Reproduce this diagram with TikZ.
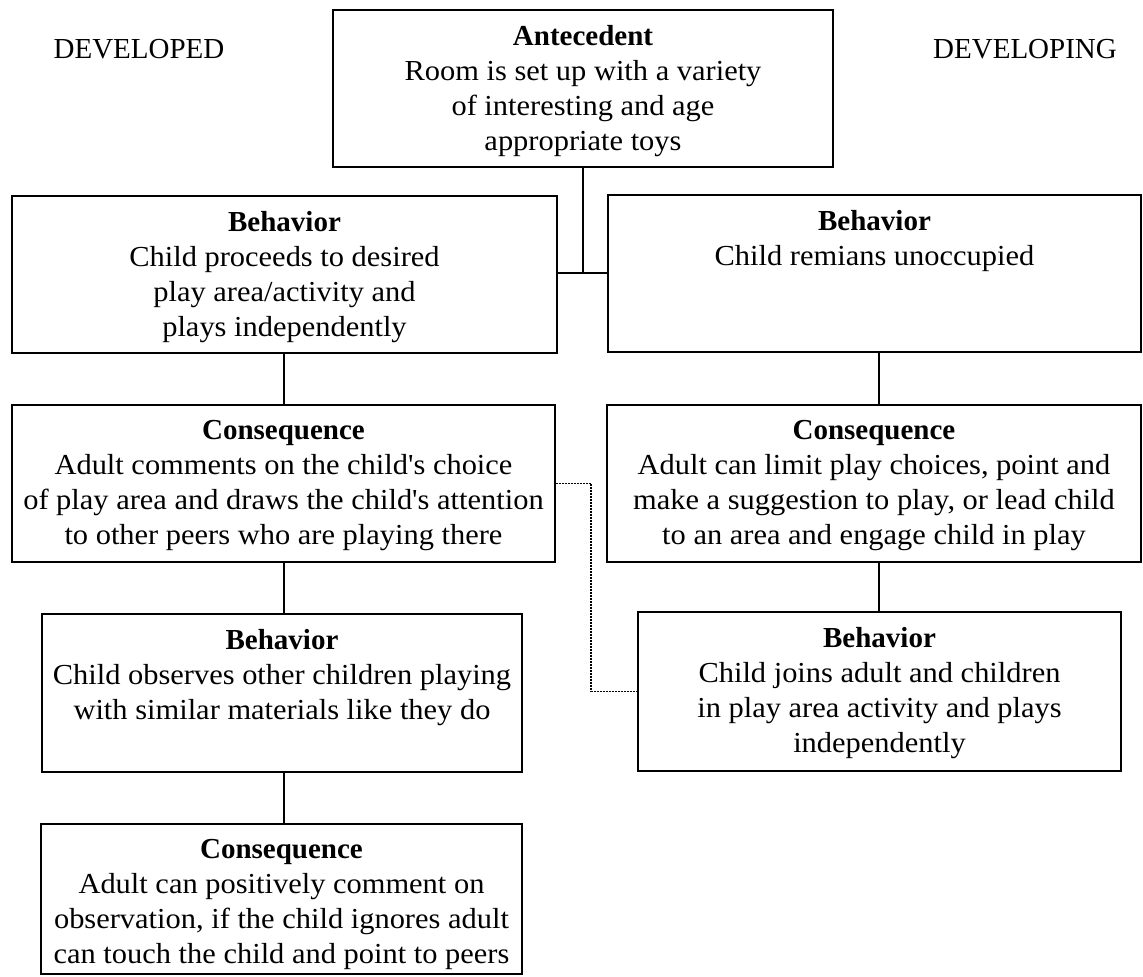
\documentclass[tikz,border=0pt]{standalone}
\usepackage{fontspec}
\setmainfont{Liberation Serif}
\newfontfamily\bodyfont{Liberation Serif}[FakeStretch=1.05]
\newcommand\hd[1]{{\rmfamily\bfseries #1}}
\begin{document}
\begin{tikzpicture}[x=1pt,y=-1pt,
  box/.style={draw, line width=1.9pt, inner sep=0pt},
  txt/.style={align=center, inner sep=0pt, anchor=north, yshift=-16pt, font=\bodyfont\fontsize{29}{35}\selectfont},
  head/.style={inner sep=0pt, font=\fontsize{29}{35}\selectfont},
  conn/.style={line width=1.9pt},
  dotconn/.style={line width=1.8pt, dash pattern=on 1.6pt off 1.4pt}]
\useasboundingbox (0,0) rectangle (1143,977);
% boxes
\node[box, minimum width=500pt, minimum height=157pt] (ante) at (583,88.5) {};
\node[box, minimum width=545pt, minimum height=157pt] (lb1) at (284.5,274.5) {};
\node[box, minimum width=533pt, minimum height=157pt] (rb1) at (874.5,273.5) {};
\node[box, minimum width=543pt, minimum height=157pt] (lc1) at (283.5,483.5) {};
\node[box, minimum width=534pt, minimum height=157pt] (rc1) at (874,483.5) {};
\node[box, minimum width=480pt, minimum height=158pt] (lb2) at (282,693) {};
\node[box, minimum width=483pt, minimum height=159pt] (rb2) at (879.5,691.5) {};
\node[box, minimum width=481pt, minimum height=150pt] (lc2) at (281.5,899) {};
% texts
\node[txt] (t-ante) at (ante.north) {\hd{Antecedent}\\Room is set up with a variety\\of interesting and age\\appropriate toys};
\node[txt] (t-lb1) at (lb1.north) {\hd{Behavior}\\Child proceeds to desired\\play area/activity and\\plays independently};
\node[txt] (t-rb1) at (rb1.north) {\hd{Behavior}\\Child remians unoccupied};
\node[txt] (t-lc1) at (lc1.north) {\hd{Consequence}\\Adult comments on the child's choice\\of play area and draws the child's attention\\to other peers who are playing there};
\node[txt] (t-rc1) at (rc1.north) {\hd{Consequence}\\Adult can limit play choices, point and\\make a suggestion to play, or lead child\\to an area and engage child in play};
\node[txt] (t-lb2) at (lb2.north) {\hd{Behavior}\\Child observes other children playing\\with similar materials like they do};
\node[txt] (t-rb2) at (rb2.north) {\hd{Behavior}\\Child joins adult and children\\in play area activity and plays\\independently};
\node[txt] (t-lc2) at (lc2.north) {\hd{Consequence}\\Adult can positively comment on\\observation, if the child ignores adult\\can touch the child and point to peers};
% headings
\node[head] (developed) at (139,49) {DEVELOPED};
\node[head] (developing) at (1025,49) {DEVELOPING};
% connectors
\coordinate (j) at (583,273);
\coordinate (lx) at (284,0);
\coordinate (rx) at (879,0);
\draw[conn] (ante.south -| j) -- (j);
\draw[conn] (lb1.east |- j) -- (rb1.west |- j);
\draw[conn] (lb1.south -| lx) -- (lc1.north -| lx);
\draw[conn] (lc1.south -| lx) -- (lb2.north -| lx);
\draw[conn] (lb2.south -| lx) -- (lc2.north -| lx);
\draw[conn] (rb1.south -| rx) -- (rc1.north -| rx);
\draw[conn] (rc1.south -| rx) -- (rb2.north -| rx);
% dotted link
\coordinate (dv) at (591,0);
\draw[dotconn] (lc1.east) -- (lc1.east -| dv) -- (rb2.west -| dv) -- (rb2.west);
\end{tikzpicture}
\end{document}
